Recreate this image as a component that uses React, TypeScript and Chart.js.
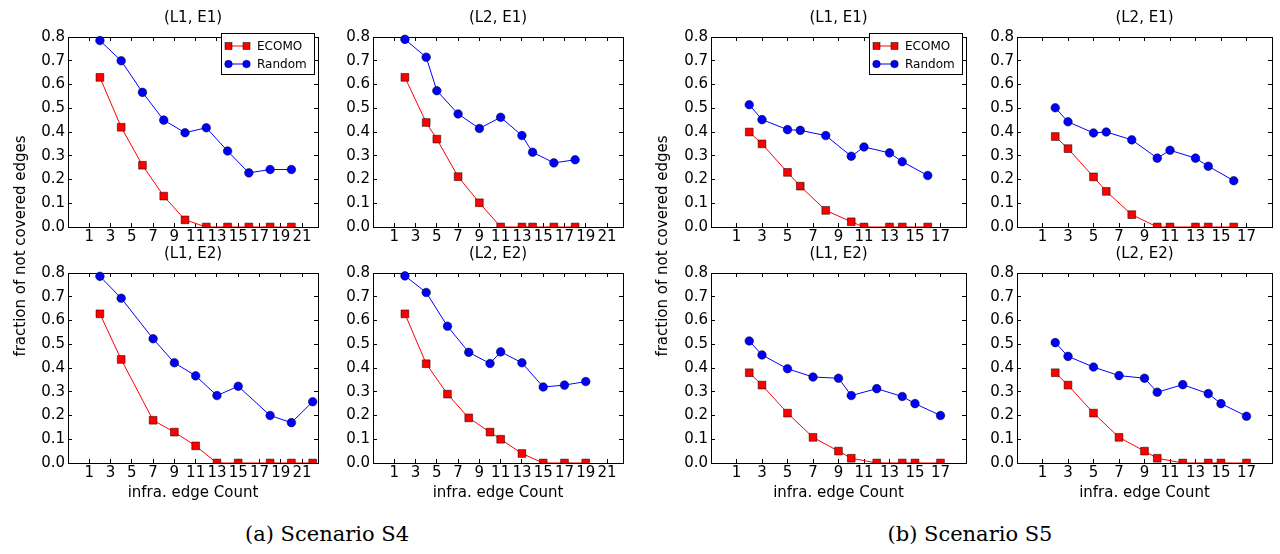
import React, { useEffect, useRef } from 'react';
import { Chart, registerables } from 'chart.js';

Chart.register(...registerables);

// ---------- data ----------
const yTickValues = [0, 0.1, 0.2, 0.3, 0.4, 0.5, 0.6, 0.7, 0.8];
const s4XTickValues = [1, 3, 5, 7, 9, 11, 13, 15, 17, 19, 21];
const s5XTickValues = [1, 3, 5, 7, 9, 11, 13, 15, 17];

const s4L1E1X = [2, 4, 6, 8, 10, 12, 14, 16, 18, 20];
const s4L1E1Ecomo = [0.63, 0.42, 0.26, 0.13, 0.03, 0, 0, 0, 0, 0];
const s4L1E1Random = [0.785, 0.7, 0.567, 0.45, 0.397, 0.418, 0.32, 0.228, 0.242, 0.242];

const s4L2E1X = [2, 4, 5, 7, 9, 11, 13, 14, 16, 18];
const s4L2E1Ecomo = [0.63, 0.44, 0.37, 0.212, 0.102, 0, 0, 0, 0, 0];
const s4L2E1Random = [0.79, 0.715, 0.574, 0.476, 0.415, 0.462, 0.385, 0.315, 0.27, 0.283];

const s4L1E2X = [2, 4, 7, 9, 11, 13, 15, 18, 20, 22];
const s4L1E2Ecomo = [0.628, 0.436, 0.18, 0.13, 0.072, 0, 0, 0, 0, 0];
const s4L1E2Random = [0.786, 0.694, 0.523, 0.422, 0.367, 0.284, 0.323, 0.2, 0.17, 0.258];

const s4L2E2X = [2, 4, 6, 8, 10, 11, 13, 15, 17, 19];
const s4L2E2Ecomo = [0.628, 0.418, 0.29, 0.19, 0.13, 0.1, 0.04, 0, 0, 0];
const s4L2E2Random = [0.788, 0.718, 0.576, 0.466, 0.419, 0.468, 0.422, 0.32, 0.328, 0.343];

const s5L1E1X = [2, 3, 5, 6, 8, 10, 11, 13, 14, 16];
const s5L1E1Ecomo = [0.4, 0.35, 0.23, 0.172, 0.07, 0.022, 0, 0, 0, 0];
const s5L1E1Random = [0.515, 0.452, 0.41, 0.407, 0.385, 0.298, 0.337, 0.312, 0.275, 0.217];

const s5L2E1X = [2, 3, 5, 6, 8, 10, 11, 13, 14, 16];
const s5L2E1Ecomo = [0.381, 0.33, 0.211, 0.15, 0.052, 0, 0, 0, 0, 0];
const s5L2E1Random = [0.502, 0.443, 0.396, 0.4, 0.367, 0.29, 0.323, 0.29, 0.256, 0.195];

const s5L1E2X = [2, 3, 5, 7, 9, 10, 12, 14, 15, 17];
const s5L1E2Ecomo = [0.38, 0.328, 0.21, 0.108, 0.05, 0.02, 0, 0, 0, 0];
const s5L1E2Random = [0.514, 0.455, 0.397, 0.362, 0.357, 0.284, 0.313, 0.28, 0.25, 0.2];

const s5L2E2X = [2, 3, 5, 7, 9, 10, 12, 14, 15, 17];
const s5L2E2Ecomo = [0.38, 0.328, 0.21, 0.108, 0.05, 0.02, 0, 0, 0, 0];
const s5L2E2Random = [0.507, 0.449, 0.404, 0.368, 0.357, 0.298, 0.33, 0.292, 0.25, 0.197];

const seriesNames = ['ECOMO', 'Random'];
const yAxisLabel = 'fraction of not covered edges';
const xAxisLabel = 'infra. edge Count';
const captions = ['(a) Scenario S4', '(b) Scenario S5'];

// ---------- layout ----------
const FONT = '"DejaVu Sans", "Bitstream Vera Sans", sans-serif';
const RED = '#ff0000';
const BLUE = '#0000ff';
const PAD_L = 50;
const PAD_T = 8;
const PAD_R = 8;
const PAD_B = 24;
const ROW_TOPS = [29, 265];
const PLOT_H = 198;

type PanelSpec = {
  title: string;
  xs: number[];
  ecomo: number[];
  random: number[];
  xTicks: number[];
  xMin: number;
  xMax: number;
  left: number;
  top: number;
  width: number;
  bottomRow: boolean;
  legend: boolean;
};

const panels: PanelSpec[] = [
  { title: '(L1, E1)', xs: s4L1E1X, ecomo: s4L1E1Ecomo, random: s4L1E1Random, xTicks: s4XTickValues, xMin: -1, xMax: 22.5, left: 68, top: ROW_TOPS[0], width: 250, bottomRow: false, legend: true },
  { title: '(L2, E1)', xs: s4L2E1X, ecomo: s4L2E1Ecomo, random: s4L2E1Random, xTicks: s4XTickValues, xMin: -1, xMax: 22.5, left: 373, top: ROW_TOPS[0], width: 250, bottomRow: false, legend: false },
  { title: '(L1, E2)', xs: s4L1E2X, ecomo: s4L1E2Ecomo, random: s4L1E2Random, xTicks: s4XTickValues, xMin: -1, xMax: 22.5, left: 68, top: ROW_TOPS[1], width: 250, bottomRow: true, legend: false },
  { title: '(L2, E2)', xs: s4L2E2X, ecomo: s4L2E2Ecomo, random: s4L2E2Random, xTicks: s4XTickValues, xMin: -1, xMax: 22.5, left: 373, top: ROW_TOPS[1], width: 250, bottomRow: true, legend: false },
  { title: '(L1, E1)', xs: s5L1E1X, ecomo: s5L1E1Ecomo, random: s5L1E1Random, xTicks: s5XTickValues, xMin: -1, xMax: 19, left: 711, top: ROW_TOPS[0], width: 255, bottomRow: false, legend: true },
  { title: '(L2, E1)', xs: s5L2E1X, ecomo: s5L2E1Ecomo, random: s5L2E1Random, xTicks: s5XTickValues, xMin: -1, xMax: 19, left: 1017, top: ROW_TOPS[0], width: 255, bottomRow: false, legend: false },
  { title: '(L1, E2)', xs: s5L1E2X, ecomo: s5L1E2Ecomo, random: s5L1E2Random, xTicks: s5XTickValues, xMin: -1, xMax: 19, left: 711, top: ROW_TOPS[1], width: 255, bottomRow: true, legend: false },
  { title: '(L2, E2)', xs: s5L2E2X, ecomo: s5L2E2Ecomo, random: s5L2E2Random, xTicks: s5XTickValues, xMin: -1, xMax: 19, left: 1017, top: ROW_TOPS[1], width: 255, bottomRow: true, legend: false },
];

const tickGrid = {
  display: true,
  drawOnChartArea: false,
  drawTicks: true,
  tickLength: -4,
  color: '#000',
  lineWidth: 1,
};
const frameBorder = { display: true, color: '#000', width: 1 };

function Panel({ spec }: { spec: PanelSpec }) {
  const ref = useRef<HTMLCanvasElement>(null);
  const cw = spec.width + PAD_L + PAD_R;
  const ch = PLOT_H + PAD_T + PAD_B;

  useEffect(() => {
    if (!ref.current) return;
    const setX = (s: any) => {
      s.ticks = spec.xTicks.map((v) => ({ value: v }));
    };
    const setY = (s: any) => {
      s.ticks = yTickValues.map((v) => ({ value: v }));
    };
    const clip = { left: 0, top: PAD_T, right: PAD_R, bottom: 0 };
    const chart = new Chart(ref.current, {
      type: 'line',
      data: {
        datasets: [
          {
            label: seriesNames[0],
            data: spec.xs.map((x, i) => ({ x, y: spec.ecomo[i] })),
            borderColor: RED,
            backgroundColor: RED,
            borderWidth: 1,
            pointStyle: 'rect',
            pointRadius: 5.5,
            pointBackgroundColor: RED,
            pointBorderColor: '#000',
            pointBorderWidth: 0.5,
            tension: 0,
            clip: clip as any,
            xAxisID: 'x',
            yAxisID: 'y',
          },
          {
            label: seriesNames[1],
            data: spec.xs.map((x, i) => ({ x, y: spec.random[i] })),
            borderColor: BLUE,
            backgroundColor: BLUE,
            borderWidth: 1,
            pointStyle: 'circle',
            pointRadius: 4.3,
            pointBackgroundColor: BLUE,
            pointBorderColor: '#000',
            pointBorderWidth: 0.5,
            tension: 0,
            clip: clip as any,
            xAxisID: 'x',
            yAxisID: 'y',
          },
        ],
      },
      options: {
        responsive: false,
        animation: false,
        events: [],
        layout: { padding: { left: 0, top: PAD_T, right: PAD_R, bottom: 0 } },
        plugins: { legend: { display: false }, tooltip: { enabled: false }, title: { display: false } },
        scales: {
          x: {
            type: 'linear',
            position: 'bottom',
            min: spec.xMin,
            max: spec.xMax,
            afterBuildTicks: setX,
            ticks: {
              autoSkip: false,
              maxRotation: 0,
              minRotation: 0,
              padding: 5,
              color: '#000',
              font: { family: FONT, size: 15 },
              callback: (v: any) => String(v),
            },
            grid: tickGrid,
            border: frameBorder,
            afterFit: (s: any) => {
              s.height = PAD_B;
            },
          },
          x2: {
            type: 'linear',
            position: 'top',
            min: spec.xMin,
            max: spec.xMax,
            afterBuildTicks: setX,
            ticks: { display: false },
            grid: tickGrid,
            border: frameBorder,
            afterFit: (s: any) => {
              s.height = 0;
            },
          },
          y: {
            type: 'linear',
            position: 'left',
            min: 0,
            max: 0.8,
            afterBuildTicks: setY,
            ticks: {
              padding: 7,
              color: '#000',
              font: { family: FONT, size: 15 },
              callback: (v: any) => Number(v).toFixed(1),
            },
            grid: tickGrid,
            border: frameBorder,
            afterFit: (s: any) => {
              s.width = PAD_L;
            },
          },
          y2: {
            type: 'linear',
            position: 'right',
            min: 0,
            max: 0.8,
            afterBuildTicks: setY,
            ticks: { display: false },
            grid: tickGrid,
            border: frameBorder,
            afterFit: (s: any) => {
              s.width = 0;
            },
          },
        } as any,
      },
    });
    return () => chart.destroy();
  }, []);

  return (
    <>
      <canvas
        ref={ref}
        width={cw}
        height={ch}
        style={{ position: 'absolute', left: spec.left - PAD_L, top: spec.top - PAD_T, width: cw, height: ch }}
      />
      <div
        style={{
          position: 'absolute',
          left: spec.left,
          top: spec.top - 21,
          width: spec.width,
          height: 18,
          lineHeight: '18px',
          textAlign: 'center',
          font: `15px ${FONT}`,
          color: '#000',
          whiteSpace: 'nowrap',
        }}
      >
        {spec.title}
      </div>
      {spec.bottomRow && (
        <div
          style={{
            position: 'absolute',
            left: spec.left,
            top: spec.top + PLOT_H + 20,
            width: spec.width,
            height: 18,
            lineHeight: '18px',
            textAlign: 'center',
            font: `15px ${FONT}`,
            color: '#000',
            whiteSpace: 'nowrap',
          }}
        >
          {xAxisLabel}
        </div>
      )}
      {spec.legend && <Legend right={spec.left + spec.width - 3} top={spec.top + 4} />}
    </>
  );
}

function Legend({ right, top }: { right: number; top: number }) {
  const w = 94;
  const h = 42;
  const rows = [
    { name: seriesNames[0], color: RED, square: true, cy: 12.5 },
    { name: seriesNames[1], color: BLUE, square: false, cy: 31 },
  ];
  return (
    <div
      style={{
        position: 'absolute',
        left: right - w,
        top,
        width: w,
        height: h,
        boxSizing: 'border-box',
        border: '1px solid #000',
        background: '#fff',
        zIndex: 5,
      }}
    >
      {rows.map((r) => (
        <React.Fragment key={r.name}>
          <svg
            width={30}
            height={12}
            style={{ position: 'absolute', left: 0, top: r.cy - 7 }}
          >
            <line x1={6.5} y1={6} x2={24.5} y2={6} stroke={r.color} strokeWidth={1} />
            {r.square ? (
              <>
                <rect x={3} y={2.5} width={7} height={7} fill={r.color} stroke="#000" strokeWidth={0.5} />
                <rect x={21} y={2.5} width={7} height={7} fill={r.color} stroke="#000" strokeWidth={0.5} />
              </>
            ) : (
              <>
                <circle cx={6.5} cy={6} r={3.8} fill={r.color} stroke="#000" strokeWidth={0.5} />
                <circle cx={24.5} cy={6} r={3.8} fill={r.color} stroke="#000" strokeWidth={0.5} />
              </>
            )}
          </svg>
          <div
            style={{
              position: 'absolute',
              left: 35,
              top: r.cy - 8,
              height: 16,
              lineHeight: '16px',
              font: `12px ${FONT}`,
              color: '#000',
              whiteSpace: 'nowrap',
            }}
          >
            {r.name}
          </div>
        </React.Fragment>
      ))}
    </div>
  );
}

function YLabel({ cx, cy }: { cx: number; cy: number }) {
  const w = 300;
  return (
    <div
      style={{
        position: 'absolute',
        left: cx - w / 2,
        top: cy - 9,
        width: w,
        height: 18,
        lineHeight: '18px',
        textAlign: 'center',
        font: `15px ${FONT}`,
        color: '#000',
        transform: 'rotate(-90deg)',
        whiteSpace: 'nowrap',
      }}
    >
      {yAxisLabel}
    </div>
  );
}

function Caption({ cx, cy, text }: { cx: number; cy: number; text: string }) {
  const w = 300;
  return (
    <div
      style={{
        position: 'absolute',
        left: cx - w / 2,
        top: cy - 14,
        width: w,
        height: 28,
        lineHeight: '28px',
        textAlign: 'center',
        font: '21px "DejaVu Serif", "Liberation Serif", serif',
        color: '#000',
        whiteSpace: 'nowrap',
      }}
    >
      {text}
    </div>
  );
}

export default function App() {
  return (
    <div
      style={{
        position: 'absolute',
        left: 0,
        top: 0,
        width: 1280,
        height: 554,
        background: '#fff',
        overflow: 'hidden',
      }}
    >
      {panels.map((p, i) => (
        <Panel key={i} spec={p} />
      ))}
      <YLabel cx={20} cy={246} />
      <YLabel cx={662} cy={246} />
      <Caption cx={327} cy={536} text={captions[0]} />
      <Caption cx={970} cy={536} text={captions[1]} />
    </div>
  );
}
